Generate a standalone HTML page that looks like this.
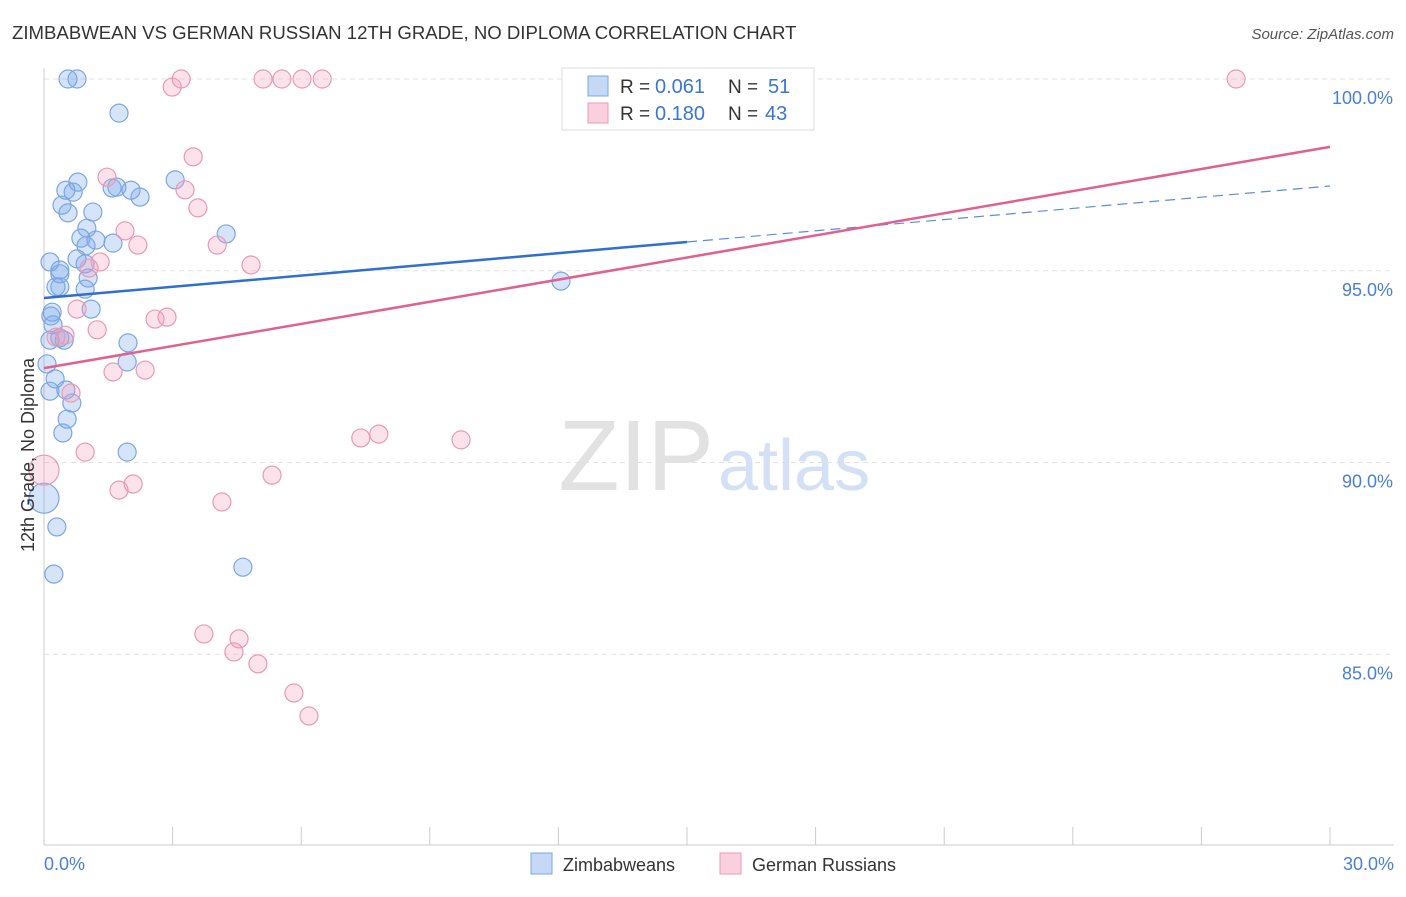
<!DOCTYPE html>
<html><head><meta charset="utf-8"><style>
body{margin:0;background:#fff;font-family:"Liberation Sans",sans-serif}
svg text{font-family:"Liberation Sans",sans-serif}
</style></head><body>
<svg width="1406" height="892">
<text x="12" y="39" font-size="18.6" fill="#333">ZIMBABWEAN VS GERMAN RUSSIAN 12TH GRADE, NO DIPLOMA CORRELATION CHART</text>
<text x="1394" y="39" font-size="15" fill="#555" font-style="italic" text-anchor="end">Source: ZipAtlas.com</text>
<g id="grid"></g>
<text x="714" y="490" font-size="100" fill="#e2e2e2" text-anchor="end" font-family="Liberation Serif">ZIP</text>
<text x="718" y="490" font-size="72" fill="#d4e0f4">atlas</text>
<g id="marks"></g>
<text transform="translate(34,455) rotate(-90)" font-size="18" fill="#333" text-anchor="middle">12th Grade, No Diploma</text>
<text x="44" y="870" font-size="18" fill="#4a7fd6">0.0%</text>
<text x="1394" y="870" font-size="18" fill="#4a7fd6" text-anchor="end">30.0%</text>
<g>
<rect x="562" y="68" width="252" height="62" fill="#fff" stroke="#ddd"/>
<rect x="588" y="76" width="20" height="20" fill="#c5d8f5" stroke="#7ba7e0"/>
<rect x="588" y="103" width="20" height="20" fill="#fbd0de" stroke="#e89ab5"/>
<text x="620" y="93" font-size="19" fill="#333">R =</text>
<text x="655" y="93" font-size="20" fill="#3a76d4">0.061</text>
<text x="728" y="93" font-size="19" fill="#333">N =</text>
<text x="768" y="93" font-size="20" fill="#3a76d4">51</text>
<text x="620" y="120" font-size="19" fill="#333">R =</text>
<text x="655" y="120" font-size="20" fill="#3a76d4">0.180</text>
<text x="728" y="120" font-size="19" fill="#333">N =</text>
<text x="765" y="120" font-size="20" fill="#3a76d4">43</text>
</g>
<g>
<rect x="531" y="853" width="21" height="21" fill="#c5d8f5" stroke="#7ba7e0"/>
<text x="563" y="871" font-size="18" fill="#333">Zimbabweans</text>
<rect x="720" y="853" width="21" height="21" fill="#fbd0de" stroke="#e89ab5"/>
<text x="752" y="871" font-size="18" fill="#333">German Russians</text>
</g>
</svg>
<script>
const yTicks=[100,95,90,85];
const yTickLabels=["100.0%","95.0%","90.0%","85.0%"];
const xTicks=[0,3,6,9,12,15,18,21,24,27,30];
const blueX=[0.56,0.77,1.75,0.79,0.51,0.68,1.59,1.70,2.03,2.24,3.06,0.42,0.56,1.14,1.00,0.86,1.21,0.98,1.61,4.25,0.14,0.37,0.37,0.77,0.96,1.03,0.28,0.37,0.96,1.10,0.19,0.16,0.21,0.14,0.37,0.47,1.96,1.94,0.07,0.26,0.51,0.65,0.54,0.44,1.94,0,0.30,4.64,0.23,12.06,0.14];
const blueY=[100,100,99.11,97.31,97.10,97.05,97.16,97.18,97.10,96.92,97.37,96.71,96.51,96.53,96.11,95.85,95.80,95.65,95.72,95.96,95.23,95.02,94.92,95.31,95.18,94.81,94.58,94.58,94.52,94.00,93.92,93.82,93.59,93.19,93.25,93.19,93.12,92.62,92.57,92.18,91.89,91.55,91.13,90.77,90.27,89.07,88.32,87.27,87.09,94.73,91.86];
const blueR=[9,9,9,9,9,9,9,9,9,9,9,9,9,9,9,9,9,9,9,9,9,9,9,9,9,9,9,9,9,9,9,9,9,9,9,9,9,9,9,9,9,9,9,9,9,15,9,9,9,9,9];
const pinkX=[2.99,3.20,5.11,5.55,6.02,6.49,12.50,27.81,3.48,1.47,3.29,3.59,1.89,2.19,4.04,1.31,1.05,4.83,0.77,2.59,2.87,1.24,0.49,1.61,2.36,0.63,0,0.96,1.75,2.08,5.32,4.15,7.39,7.81,9.73,3.73,4.55,4.43,4.99,5.83,6.18,0.28];
const pinkY=[99.79,100,100,100,100,100,100,100,97.97,97.44,97.11,96.64,96.04,95.67,95.67,95.23,95.07,95.15,94.00,93.74,93.79,93.46,93.32,92.36,92.41,91.81,89.80,90.27,89.28,89.44,89.67,88.97,90.64,90.74,90.59,85.53,85.40,85.06,84.75,83.99,83.39,93.27];
const blueLine=[94.29,95.75,97.21]; // at x=0,15,30
const pinkLine=[92.46,98.23]; // at x=0,30
const xs=v=>44+v*42.867, ys=v=>79+(100-v)*38.35;
const NS="http://www.w3.org/2000/svg";
function mk(t,a,p){const e=document.createElementNS(NS,t);for(const k in a)e.setAttribute(k,a[k]);p.appendChild(e);return e;}
const g=document.getElementById('grid'), m=document.getElementById('marks');
yTicks.forEach((t,i)=>{
 const l=mk('line',{x1:44,x2:1394,y1:ys(t),y2:ys(t),stroke:'#e2e2e2','stroke-dasharray':'5,4'},g);
 
 
 const tx=mk('text',{x:1393,y:ys(t)+25,'font-size':18,fill:'#4a7fd6','text-anchor':'end'},g);
 tx.textContent=yTickLabels[i];
 
 
});
const ax=mk('line',{x1:44,x2:44,y1:68,y2:845,stroke:'#ccc'},g);


const bx=mk('line',{x1:44,x2:1394,y1:845,y2:845,stroke:'#ccc'},g);


xTicks.forEach(t=>{
 const l=mk('line',{x1:xs(t),x2:xs(t),y1:827,y2:845,stroke:'#ccc'},g);
 
 
});
blueX.forEach((v,i)=>{
 const c=mk('circle',{cx:xs(v),cy:ys(blueY[i]),r:blueR[i],fill:'rgba(120,165,235,0.3)',stroke:'#7ba7e0','stroke-width':1.2},m);
 
 
});
pinkX.forEach((v,i)=>{
 const c=mk('circle',{cx:xs(v),cy:ys(pinkY[i]),r:(v===0?15:9),fill:'rgba(245,160,190,0.3)',stroke:'#e89ab5','stroke-width':1.2},m);
 
 
});
let l1=mk('line',{x1:xs(0),y1:ys(blueLine[0]),x2:xs(15),y2:ys(blueLine[1]),stroke:'#2f6fd0','stroke-width':2.5},m);


let l2=mk('line',{x1:xs(15),y1:ys(blueLine[1]),x2:xs(30),y2:ys(blueLine[2]),stroke:'#5a8ed8','stroke-width':1.2,'stroke-dasharray':'10,6'},m);


let l3=mk('line',{x1:xs(0),y1:ys(pinkLine[0]),x2:xs(30),y2:ys(pinkLine[1]),stroke:'#e0608f','stroke-width':2.5},m);


</script>
</body></html>
